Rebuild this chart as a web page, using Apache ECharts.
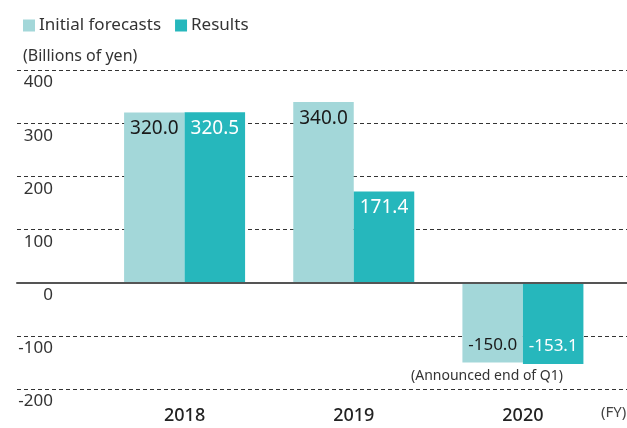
<!DOCTYPE html>
<html>
<head>
<meta charset="utf-8">
<script src="https://cdn.jsdelivr.net/npm/echarts@6/dist/echarts.min.js"></script>
<style>
  html, body { margin: 0; padding: 0; background: #fff; }
  #main { width: 627px; height: 428px; }
</style>
</head>
<body>
<div id="main"></div>
<script>
// 年度
const years = ["2018", "2019", "2020"];
// 期初预测
const forecasts = [320.0, 340.0, -150.0];
// 实绩
const results = [320.5, 171.4, -153.1];
// 纵轴刻度
const yTicks = [-200, -100, 0, 100, 200, 300, 400];

const FONT = "Noto Sans";
const lightColor = "#a3d7d9";
const darkColor = "#26b7bc";

// 数据标签: 正值在柱顶内侧, 负值在柱底内侧
const makeData = (values, textColor) =>
  values.map((v) => ({
    value: v,
    label: {
      position: v >= 0 ? "insideTop" : "insideBottom",
      distance: v >= 0 ? 7 : 9,
      fontSize: v >= 0 ? 19 : 17,
      color: textColor,
    },
  }));

var myChart = echarts.init(document.getElementById("main"));

var option = {
  animation: false,
  textStyle: { fontFamily: FONT },
  title: {
    text: "(Billions of yen)",
    left: 18,
    top: 43,
    textStyle: { fontFamily: FONT, fontSize: 16, fontWeight: "normal", color: "#333" },
  },
  legend: {
    left: 18,
    top: 12,
    icon: "rect",
    itemWidth: 12,
    itemHeight: 12,
    itemGap: 14,
    textStyle: { fontFamily: FONT, fontSize: 17, color: "#333", padding: [0, 0, 0, -1] },
    data: ["Initial forecasts", "Results"],
  },
  grid: [
    // 背景网格线
    { left: 17, right: 0, top: 70, bottom: 39 },
    // 柱状图
    { left: 100, right: 19.5, top: 70, bottom: 39 },
  ],
  xAxis: [
    {
      gridIndex: 0,
      type: "value",
      min: 0,
      max: 1,
      z: 10,
      axisLine: { show: true, onZero: true, lineStyle: { color: "#555", width: 2 } },
      axisTick: { show: false },
      axisLabel: { show: false },
      splitLine: { show: false },
    },
    {
      gridIndex: 1,
      type: "category",
      data: years,
      axisLine: { show: false },
      axisTick: { show: false },
      axisLabel: {
        margin: 18,
        fontFamily: FONT,
        fontSize: 18,
        fontWeight: 500,
        color: "#222",
      },
    },
  ],
  yAxis: [
    {
      gridIndex: 0,
      type: "value",
      min: yTicks[0],
      max: yTicks[yTicks.length - 1],
      interval: 100,
      axisLine: { show: false },
      axisTick: { show: false },
      axisLabel: {
        margin: -36,
        align: "right",
        verticalAlign: "top",
        padding: [4, 0, 0, 0],
        fontFamily: FONT,
        fontSize: 17,
        color: "#333",
      },
      splitLine: { show: true, lineStyle: { color: "#333", type: [4, 3], width: 1 } },
    },
    {
      gridIndex: 1,
      type: "value",
      min: yTicks[0],
      max: yTicks[yTicks.length - 1],
      interval: 100,
      show: false,
      splitLine: { show: false },
    },
  ],
  series: [
    {
      name: "Initial forecasts",
      type: "bar",
      xAxisIndex: 1,
      yAxisIndex: 1,
      barWidth: 60.5,
      barGap: "0%",
      itemStyle: { color: lightColor },
      label: {
        show: true,
        fontFamily: FONT,
        formatter: (p) => p.value.toFixed(1),
      },
      data: makeData(forecasts, "#1a1a1a"),
    },
    {
      name: "Results",
      type: "bar",
      xAxisIndex: 1,
      yAxisIndex: 1,
      barWidth: 60.5,
      barGap: "0%",
      itemStyle: { color: darkColor },
      label: {
        show: true,
        fontFamily: FONT,
        formatter: (p) => p.value.toFixed(1),
      },
      data: makeData(results, "#ffffff"),
    },
  ],
  graphic: [
    {
      type: "text",
      left: 411,
      top: 369,
      style: { text: "(Announced end of Q1)", font: "14px 'Noto Sans'", fill: "#333" },
    },
    {
      type: "text",
      left: 601,
      top: 405,
      style: { text: "(FY)", font: "15px 'Noto Sans'", fill: "#444" },
    },
  ],
};

myChart.setOption(option);
</script>
</body>
</html>
